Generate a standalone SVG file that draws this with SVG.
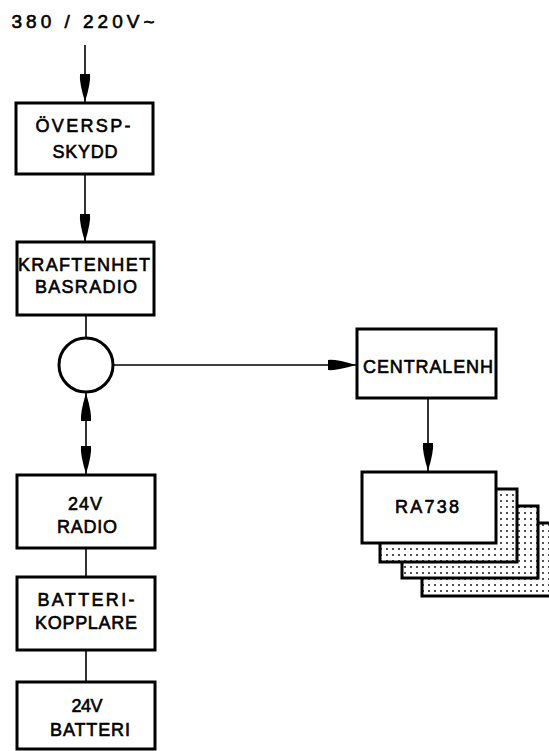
<svg xmlns="http://www.w3.org/2000/svg" width="549" height="751" viewBox="0 0 549 751">
<defs>
<marker id="ah" viewBox="0 0 28 12" refX="28" refY="6" markerWidth="28" markerHeight="12" markerUnits="userSpaceOnUse" orient="auto-start-reverse">
<path d="M0,1 Q8,0 28,6 Q8,12 0,11 Z" fill="#000"/>
</marker>
<pattern id="dots" width="6" height="6" patternUnits="userSpaceOnUse">
<rect width="6" height="6" fill="#fff"/>
<circle cx="3" cy="3" r="0.9" fill="#000"/>
</pattern>
</defs>
<style>
.box{fill:#fff;stroke:#000;stroke-width:3}
.stack{fill:url(#dots);stroke:#000;stroke-width:3}
.ln{fill:none;stroke:#000;stroke-width:1.6}
text{font-family:"Liberation Sans","DejaVu Sans",Arial,sans-serif;font-size:18px;fill:#000;text-anchor:middle;stroke:#000;stroke-width:0.6}
.title{font-size:19px}
</style>
<rect width="549" height="751" fill="#fff"/>
<text class="title" x="83" y="28" textLength="143" lengthAdjust="spacing">380 / 220V~</text>
<g id="connectors">
<line class="ln" x1="85" y1="45" x2="85" y2="102" marker-end="url(#ah)"/>
<line class="ln" x1="85" y1="175" x2="85" y2="242" marker-end="url(#ah)"/>
<line class="ln" x1="86" y1="315" x2="86" y2="338"/>
<line class="ln" x1="113" y1="365" x2="356" y2="365" marker-end="url(#ah)"/>
<line class="ln" x1="86" y1="393" x2="86" y2="474" marker-start="url(#ah)" marker-end="url(#ah)"/>
<line class="ln" x1="428" y1="398" x2="428" y2="471" marker-end="url(#ah)"/>
<line class="ln" x1="86" y1="548" x2="86" y2="577"/>
<line class="ln" x1="86" y1="650" x2="86" y2="682"/>
</g>
<g id="oversp">
<rect class="box" x="16" y="103" width="137" height="71"/>
<text x="83" y="132" textLength="95" lengthAdjust="spacing">ÖVERSP-</text>
<text x="85" y="158" textLength="65" lengthAdjust="spacing">SKYDD</text>
</g>
<g id="kraftenhet">
<rect class="box" x="17" y="242" width="137" height="73"/>
<text x="84" y="271" textLength="132" lengthAdjust="spacing">KRAFTENHET</text>
<text x="86" y="293" textLength="102" lengthAdjust="spacing">BASRADIO</text>
</g>
<g id="junction">
<circle cx="86" cy="365" r="27" fill="#fff" stroke="#000" stroke-width="3"/>
</g>
<g id="centralenh">
<rect class="box" x="357" y="329" width="139" height="69"/>
<text x="428" y="373" textLength="130" lengthAdjust="spacing">CENTRALENH</text>
</g>
<g id="ra738">
<rect class="stack" x="422" y="523" width="140" height="73"/>
<rect class="stack" x="402" y="506" width="136" height="72"/>
<rect class="stack" x="380" y="489" width="137" height="73"/>
<rect class="box" x="362" y="472" width="134" height="71"/>
<text x="427" y="513" textLength="64" lengthAdjust="spacing">RA738</text>
</g>
<g id="radio24">
<rect class="box" x="17" y="475" width="138" height="73"/>
<text x="85" y="510" textLength="34" lengthAdjust="spacing">24V</text>
<text x="87" y="533" textLength="60" lengthAdjust="spacing">RADIO</text>
</g>
<g id="batterikopplare">
<rect class="box" x="17" y="577" width="138" height="73"/>
<text x="86" y="606" textLength="97" lengthAdjust="spacing">BATTERI-</text>
<text x="86" y="629" textLength="102" lengthAdjust="spacing">KOPPLARE</text>
</g>
<g id="batteri24">
<rect class="box" x="17" y="682" width="138" height="67"/>
<text x="87" y="712" textLength="31" lengthAdjust="spacing">24V</text>
<text x="90" y="736" textLength="80" lengthAdjust="spacing">BATTERI</text>
</g>
</svg>
